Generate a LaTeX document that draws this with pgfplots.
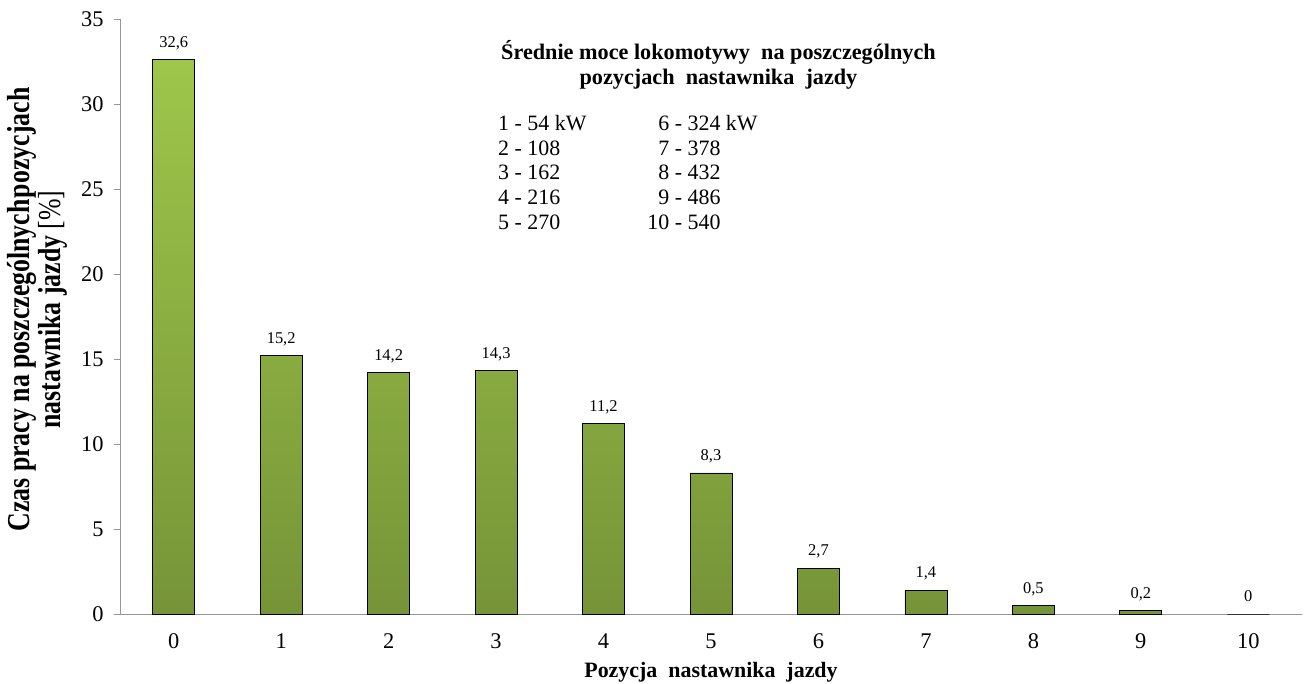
\documentclass[border=0pt]{standalone}
\usepackage{pgfplots}
\pgfplotsset{compat=1.18}
\usepackage{fontspec}
\setmainfont{Liberation Serif}
\definecolor{bartop}{RGB}{158,198,74}
\definecolor{barbot}{RGB}{118,148,56}
\definecolor{axisgray}{RGB}{150,150,150}
\begin{document}
\begin{tikzpicture}
\begin{axis}[
  scale only axis,
  width=1182bp, height=595bp,
  xmin=-0.5, xmax=10.5,
  ymin=0, ymax=35,
  ytick={0,5,...,35},
  xtick={0,...,10},
  xtick style={/pgfplots/major tick length=0pt},
  extra x ticks={-0.5,0.5,...,10.5},
  extra x tick labels={},
  extra x tick style={/pgfplots/major tick length=6bp},
  major tick length=6bp,
  tick align=outside,
  axis x line*=bottom,
  axis y line*=left,
  axis line style={axisgray, line width=0.9pt},
  every tick/.style={axisgray, line width=0.9pt},
  tick label style={font=\fontsize{22.5}{24}\selectfont, black},
  /pgf/number format/assume math mode=true,
  yticklabel style={xshift=-7bp},
  xticklabel style={yshift=-10bp},
  ybar,
  bar width=42bp,
  nodes near coords,
  nodes near coords style={font=\fontsize{16.5}{18}\selectfont, anchor=base, yshift=12.5bp, inner sep=0pt,
    /pgf/number format/.cd, use comma, fixed, precision=1, assume math mode=true},
  clip=false,
]
\addplot[draw=black, line width=0.8pt, top color=bartop, bottom color=barbot] coordinates {
  (0,32.6) (1,15.2) (2,14.2) (3,14.3) (4,11.2) (5,8.3) (6,2.7) (7,1.4) (8,0.5) (9,0.2) (10,0)
};
\coordinate (O) at (rel axis cs:0,0);
\node[rotate=90, anchor=center, inner sep=0pt] at ([xshift=-82bp, yshift=7bp]rel axis cs:0,0.5)
  {\scalebox{0.81}[1]{\fontsize{32}{30}\selectfont\bfseries
   \begin{tabular}{@{}c@{}}Czas pracy na poszczególnych\hspace{0.05em}pozycjach\\ nastawnika jazdy {\mdseries [\%]}\end{tabular}}};
\node[anchor=base, inner sep=0pt, font=\fontsize{22}{25}\selectfont\bfseries] at ([yshift=-63bp]rel axis cs:0.5,0) {Pozycja\ \ nastawnika\ \ jazdy};
\node[anchor=base, inner sep=0pt, font=\fontsize{22.3}{25}\selectfont\bfseries] at ([xshift=598.5bp, yshift=554bp]rel axis cs:0,0) {Średnie moce lokomotywy\ \ na poszczególnych};
\node[anchor=base, inner sep=0pt, font=\fontsize{22.3}{25}\selectfont\bfseries] at ([xshift=598.5bp, yshift=529bp]rel axis cs:0,0) {pozycjach\ \ nastawnika\ \ jazdy};
\node[anchor=north west, inner sep=0pt, font=\fontsize{22}{25}\selectfont] at ([xshift=378bp, yshift=501.5bp]rel axis cs:0,0)
  {\begin{tabular}{@{}l@{\hspace{61bp}}r@{\ -\ }l@{}}
  1 - 54 kW & 6 & 324 kW\\
  2 - 108 & 7 & 378\\
  3 - 162 & 8 & 432\\
  4 - 216 & 9 & 486\\
  5 - 270 & 10 & 540
  \end{tabular}};
\end{axis}
\path (O) ++(-120bp,-70bp) rectangle ++(1309bp,684bp);
\end{tikzpicture}
\end{document}
